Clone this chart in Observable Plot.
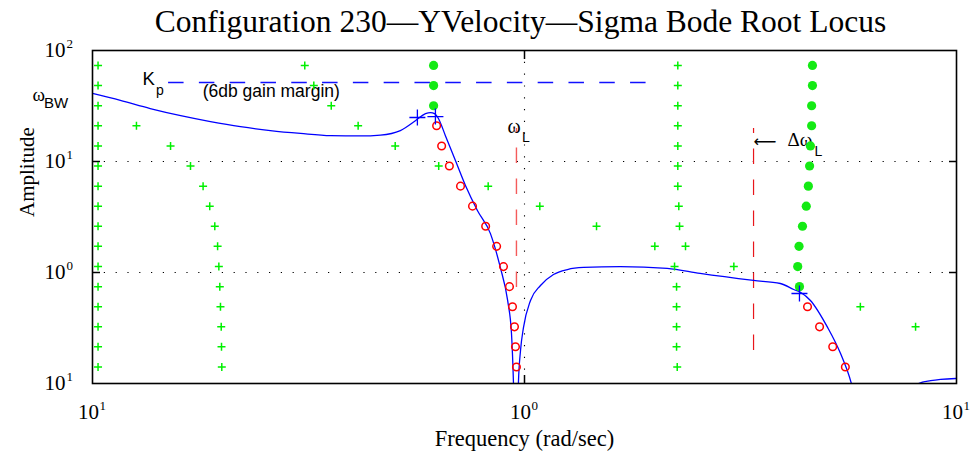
<!DOCTYPE html>
<html><head><meta charset="utf-8">
<script src="https://cdn.jsdelivr.net/npm/d3@7"></script>
<script src="https://cdn.jsdelivr.net/npm/@observablehq/plot@0.6"></script>
<style>body{margin:0;background:#fff}</style>
</head><body><div id="chart"></div>
<script>
// ---- data ----
const titleText = "Configuration 230\u2014YVelocity\u2014Sigma Bode Root Locus";
const xLabel = "Frequency (rad/sec)";
const yLabel = "Amplitude";
const xTicks = [0.1, 1, 10];
const xTickExps = ["1", "0", "1"];
const yTicks = [0.1, 1, 10, 100];
const yTickExps = ["1", "0", "1", "2"];

// Bode magnitude curve
const curveFreq = [0.1, 0.116, 0.136, 0.160, 0.1875, 0.220, 0.258, 0.303, 0.356, 0.417, 0.464, 0.516, 0.560, 0.590, 0.606, 0.619, 0.632, 0.656, 0.692, 0.730, 0.778, 0.834, 0.879, 0.914, 0.933, 0.943, 0.948, 0.963, 0.968, 0.979, 0.9947, 1.0325, 1.089, 1.167, 1.257, 1.370, 1.667, 2.14, 2.55, 3.39, 3.91, 4.20, 4.36, 4.59, 5.03, 5.39, 5.71, 5.84, 7.91, 8.17, 8.71, 9.19, 10];
const curveAmp = [41.0, 35.5, 30.0, 25.9, 22.9, 20.6, 19.0, 17.9, 17.1, 17.0, 17.3, 19.0, 23.4, 27.0, 27.6, 27.0, 24.4, 17.1, 10.2, 6.08, 3.62, 2.24, 1.11, 0.560, 0.282, 0.100, 0.046, 0.046, 0.100, 0.198, 0.320, 0.560, 0.764, 0.959, 1.064, 1.11, 1.13, 1.09, 0.98, 0.848, 0.796, 0.703, 0.661, 0.560, 0.320, 0.186, 0.100, 0.070, 0.070, 0.100, 0.106, 0.109, 0.111];

// green "+" root-locus branches
const plusAFreq = [0.103, 0.103, 0.103, 0.103, 0.103, 0.103, 0.103, 0.103, 0.103, 0.103, 0.103, 0.103, 0.103, 0.103, 0.103, 0.103];
const plusAAmp = [73.3, 48.3, 31.8, 21.0, 13.8, 9.11, 6.00, 3.96, 2.61, 1.72, 1.13, 0.746, 0.492, 0.324, 0.214, 0.141];
const plusBFreq = [0.1264, 0.1516, 0.1686, 0.1803, 0.1868, 0.1919, 0.1948, 0.1961, 0.1971, 0.1978, 0.1986, 0.1989, 0.1992];
const plusBAmp = [21.0, 13.8, 9.11, 6.00, 3.96, 2.61, 1.72, 1.13, 0.746, 0.492, 0.324, 0.214, 0.141];
const plusCFreq = [0.310, 0.3253, 0.357, 0.412, 0.502, 0.633, 0.824, 1.085, 1.468, 2.003, 3.052, 5.99, 8.04];
const plusCAmp = [73.3, 48.3, 31.8, 21.0, 13.8, 9.11, 6.00, 3.96, 2.61, 1.72, 1.13, 0.492, 0.324];
const plusDFreq = [2.264, 2.264, 2.264, 2.264, 2.264, 2.264, 2.264, 2.276, 2.285, 2.359, 2.225, 2.249, 2.249, 2.249, 2.249, 2.257];
const plusDAmp = [73.3, 48.3, 31.8, 21.0, 13.8, 9.11, 6.00, 3.96, 2.61, 1.72, 1.13, 0.746, 0.492, 0.324, 0.214, 0.141];

// green filled dots
const dotLFreq = [0.616, 0.616, 0.616];
const dotLAmp = [73.3, 48.3, 31.8];
const dotRFreq = [4.64, 4.64, 4.62, 4.62, 4.59, 4.57, 4.54, 4.49, 4.40, 4.32, 4.29, 4.33];
const dotRAmp = [73.3, 48.3, 31.8, 21.0, 13.8, 9.11, 6.00, 3.96, 2.61, 1.72, 1.13, 0.746];

// red open circles
const ringLFreq = [0.626, 0.643, 0.670, 0.711, 0.758, 0.813, 0.862, 0.894, 0.923, 0.938, 0.948, 0.953, 0.958];
const ringLAmp = [21.0, 13.8, 9.11, 6.00, 3.96, 2.61, 1.72, 1.13, 0.746, 0.492, 0.324, 0.214, 0.141];
const ringRFreq = [4.52, 4.82, 5.17, 5.53];
const ringRAmp = [0.492, 0.324, 0.214, 0.141];

// blue crosses
const crossFreq = [0.565, 0.622, 4.33];
const crossAmp = [24.9, 25.4, 0.647];

// reference lines
const kpLevel = 51.5, kpFrom = 0.150, kpTo = 1.936;
const omegaL = 0.958, omegaLLow = 0.733, omegaLHigh = 19.8;
const dOmegaL = 3.39, dOmegaLLow = 0.198, dOmegaLHigh = 19.8;

// annotation anchors (data units)
const wbwAmp = 35.4;
const kAnchor = {x: 0.1306, y: 48.4};
const gmAnchor = {x: 0.1799, y: 38.1, text: "(6db gain margin)"};
const wlAnchor = {x: 0.913, y: 17.9};
const dwlAnchor = {x: 3.39, y: 13.9};

// ---- build ----
const pts = (xs, ys) => xs.map((x, i) => ({x, y: ys[i]}));
const curve = pts(curveFreq, curveAmp);
const plusSym = {draw(ctx, size) { const r = Math.sqrt(size / Math.PI); ctx.moveTo(-r, 0); ctx.lineTo(r, 0); ctx.moveTo(0, -r); ctx.lineTo(0, r); }};
const SERIF = "'Liberation Serif', 'Times New Roman', serif";
const SANS = "'Liberation Sans', Arial, sans-serif";
const GREEN = "#00f000";
const DOTG = "#14ea14";
const gridStyle = {stroke: "black", strokeOpacity: 1, strokeWidth: 1.1, strokeDasharray: "1.2,10.6"};

const chart = Plot.plot({
  width: 972, height: 456,
  marginTop: 50, marginRight: 16, marginBottom: 73, marginLeft: 92,
  style: {background: "white", fontFamily: SERIF, overflow: "visible"},
  x: {type: "log", domain: [0.1, 10]},
  y: {type: "log", domain: [0.1, 100]},
  marks: [
    Plot.gridX([1], gridStyle),
    Plot.gridY([1, 10], gridStyle),
    // inward major ticks
    Plot.axisX([1], {anchor: "bottom", tickSize: 8, dy: -8, tickFormat: () => "", label: null, strokeWidth: 1.5}),
    Plot.axisX([1], {anchor: "top", tickSize: 8, dy: 8, tickFormat: () => "", label: null, strokeWidth: 1.5}),
    Plot.axisY([1, 10], {anchor: "left", tickSize: 8, dx: 8, tickFormat: () => "", label: null, strokeWidth: 1.5}),
    Plot.axisY([1, 10], {anchor: "right", tickSize: 8, dx: -8, tickFormat: () => "", label: null, strokeWidth: 1.5}),
    // tick labels
    Plot.text(xTicks, {x: d => d, frameAnchor: "bottom", text: () => "10", dx: -4, dy: 35, lineAnchor: "bottom", fontSize: 21, fontFamily: SERIF}),
    Plot.text(xTicks, {x: d => d, frameAnchor: "bottom", text: (d, i) => xTickExps[i], textAnchor: "start", dx: 7, dy: 26, lineAnchor: "bottom", fontSize: 13, fontFamily: SERIF}),
    Plot.text(yTicks, {y: d => d, frameAnchor: "left", text: () => "10", textAnchor: "end", dx: -27, lineAnchor: "middle", fontSize: 21, fontFamily: SERIF}),
    Plot.text(yTicks, {y: d => d, frameAnchor: "left", text: (d, i) => yTickExps[i], textAnchor: "start", dx: -26, dy: -3, lineAnchor: "bottom", fontSize: 13, fontFamily: SERIF}),
    // titles
    Plot.text([titleText], {frameAnchor: "top", text: d => d, dx: -4, dy: -19, lineAnchor: "bottom", fontSize: 31.5, fontFamily: SERIF}),
    Plot.text([xLabel], {frameAnchor: "bottom", text: d => d, dy: 62, lineAnchor: "bottom", fontSize: 22.5, fontFamily: SERIF}),
    Plot.text([yLabel], {frameAnchor: "left", text: d => d, dx: -59, rotate: -90, lineAnchor: "bottom", fontSize: 21, fontFamily: SERIF}),
    // annotations
    Plot.text([wbwAmp], {y: d => d, frameAnchor: "left", text: () => "\u03c9", textAnchor: "start", dx: -60, lineAnchor: "bottom", fontSize: 19, fontFamily: SERIF}),
    Plot.text([wbwAmp], {y: d => d, frameAnchor: "left", text: () => "BW", textAnchor: "start", dx: -48.5, dy: 7, lineAnchor: "bottom", fontSize: 15, fontFamily: SANS}),
    Plot.text([kAnchor], {x: "x", y: "y", text: () => "K", textAnchor: "start", lineAnchor: "bottom", fontSize: 18.5, fontFamily: SANS}),
    Plot.text([kAnchor], {x: "x", y: "y", text: () => "p", textAnchor: "start", dx: 13.5, dy: 10, lineAnchor: "bottom", fontSize: 14, fontFamily: SANS}),
    Plot.text([gmAnchor], {x: "x", y: "y", text: "text", textAnchor: "start", lineAnchor: "bottom", fontSize: 17.5, fontFamily: SANS}),
    Plot.text([wlAnchor], {x: "x", y: "y", text: () => "\u03c9", textAnchor: "start", lineAnchor: "bottom", fontSize: 20, fontFamily: SERIF}),
    Plot.text([wlAnchor], {x: "x", y: "y", text: () => "L", textAnchor: "start", dx: 14.7, dy: 9, lineAnchor: "bottom", fontSize: 14, fontFamily: SANS}),
    Plot.text([dwlAnchor], {x: "x", y: "y", text: () => "\u27f5", textAnchor: "start", dy: 1, lineAnchor: "bottom", fontSize: 16, fontFamily: "'DejaVu Sans', sans-serif"}),
    Plot.text([dwlAnchor], {x: "x", y: "y", text: () => "\u0394\u03c9", textAnchor: "start", dx: 34, lineAnchor: "bottom", fontSize: 19, fontFamily: SERIF}),
    Plot.text([dwlAnchor], {x: "x", y: "y", text: () => "L", textAnchor: "start", dx: 61, dy: 10, lineAnchor: "bottom", fontSize: 14, fontFamily: SANS}),
    // reference lines
    Plot.ruleY([kpLevel], {y: d => d, x1: kpFrom, x2: kpTo, stroke: "#1010ff", strokeWidth: 1.4, strokeDasharray: "15.5,15.3"}),
    Plot.ruleX([omegaL], {x: d => d, y1: omegaLLow, y2: omegaLHigh, stroke: "#f45b5b", strokeWidth: 1.4, strokeDasharray: "15.5,15.5"}),
    Plot.ruleX([dOmegaL], {x: d => d, y1: dOmegaLLow, y2: dOmegaLHigh, stroke: "#e8161b", strokeWidth: 1.2, strokeDasharray: "15.5,15.5"}),
    // Bode curve
    Plot.line(curve, {x: "x", y: "y", stroke: "#0000ff", strokeWidth: 1.3, curve: "monotone-x", clip: true}),
    // markers
    Plot.dot(pts(plusAFreq, plusAAmp), {x: "x", y: "y", symbol: plusSym, r: 4, fill: "none", stroke: GREEN, strokeWidth: 1.5}),
    Plot.dot(pts(plusBFreq, plusBAmp), {x: "x", y: "y", symbol: plusSym, r: 4, fill: "none", stroke: GREEN, strokeWidth: 1.5}),
    Plot.dot(pts(plusCFreq, plusCAmp), {x: "x", y: "y", symbol: plusSym, r: 4, fill: "none", stroke: GREEN, strokeWidth: 1.5}),
    Plot.dot(pts(plusDFreq, plusDAmp), {x: "x", y: "y", symbol: plusSym, r: 4, fill: "none", stroke: GREEN, strokeWidth: 1.5}),
    Plot.dot(pts(dotLFreq, dotLAmp), {x: "x", y: "y", r: 4.6, fill: DOTG, stroke: "none"}),
    Plot.dot(pts(dotRFreq, dotRAmp), {x: "x", y: "y", r: 4.6, fill: DOTG, stroke: "none"}),
    Plot.dot(pts(ringLFreq, ringLAmp), {x: "x", y: "y", r: 3.8, fill: "none", stroke: "#ff0000", strokeWidth: 1.5}),
    Plot.dot(pts(ringRFreq, ringRAmp), {x: "x", y: "y", r: 3.8, fill: "none", stroke: "#ff0000", strokeWidth: 1.5}),
    Plot.dot(pts(crossFreq, crossAmp), {x: "x", y: "y", symbol: plusSym, r: 8, fill: "none", stroke: "#0000ff", strokeWidth: 1.3}),
    Plot.frame({stroke: "black", strokeWidth: 1.6})
  ]
});
document.getElementById("chart").appendChild(chart);
</script>
</body></html>
